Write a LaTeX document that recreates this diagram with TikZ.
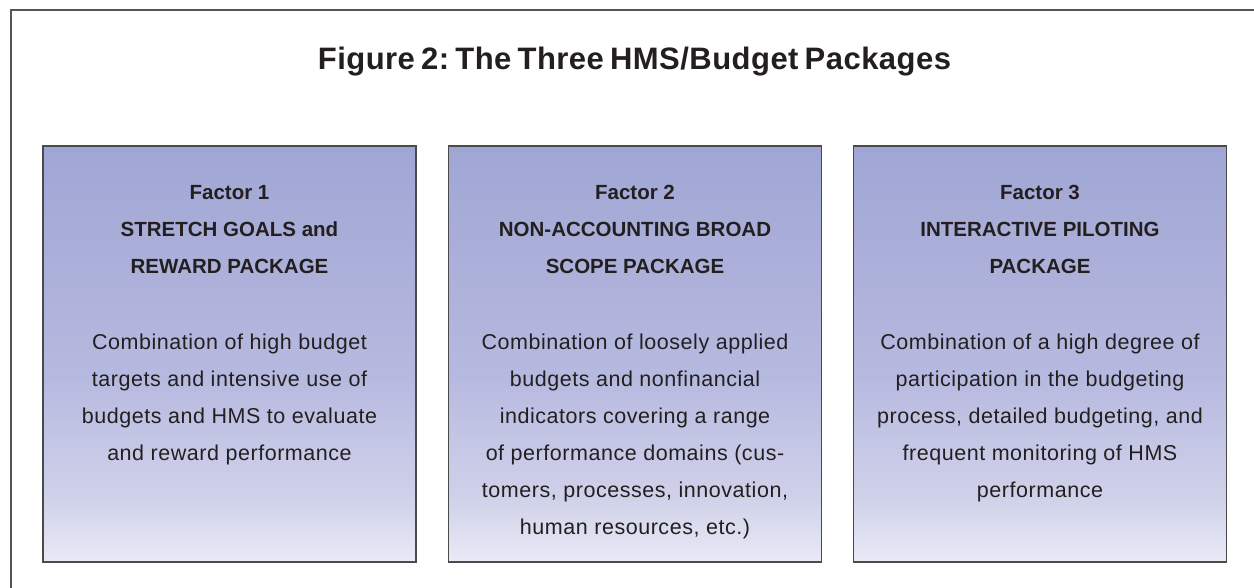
\documentclass[tikz,border=0pt]{standalone}
\usepackage{fontspec}
\setmainfont{Liberation Sans}
\newfontfamily\bodyfont[LetterSpace=2.5]{Liberation Sans}
\newfontfamily\titlefont[LetterSpace=1.5]{Liberation Sans}
\newcommand\mytitlesetup{\frenchspacing\spaceskip 0.2em\relax}
\definecolor{frameC}{HTML}{555555}
\definecolor{boxline}{HTML}{4A4A4A}
\definecolor{txt}{HTML}{231F20}
\definecolor{shB}{HTML}{E9EAF5}
\definecolor{shB1}{HTML}{D0D2EA}
\definecolor{shM}{HTML}{B6B9DF}
\definecolor{shT}{HTML}{A0A6D4}
\pgfdeclareverticalshading{boxshade}{100bp}{color(0bp)=(shB); color(25bp)=(shB); color(32.5bp)=(shB1); color(47.5bp)=(shM); color(75bp)=(shT); color(100bp)=(shT)}
\tikzset{
  pbox/.style={draw=boxline, line width=1.3pt, shading=boxshade, minimum width=373pt, minimum height=416pt, inner sep=0pt},
  headtxt/.style={anchor=base, align=center, inner sep=0pt, text=txt, font=\fontsize{20.5}{37}\selectfont\bfseries},
  bodytxt/.style={anchor=base, align=center, inner sep=0pt, text=txt, font=\bodyfont\fontsize{21.5}{37}\selectfont},
  titletxt/.style={anchor=base, inner sep=0pt, text=txt, font=\titlefont\fontsize{31}{36}\selectfont\bfseries\mytitlesetup}
}
\begin{document}
\begin{tikzpicture}[x=1pt,y=-1pt]
\useasboundingbox (0,0) rectangle (1254,588);
\fill[white] (0,0) rectangle (1254,588);
\draw[frameC, line width=1.5pt] (1254,10) -- (11,10) -- (11,588);
\node[titletxt] (title) at (634.5,69.3) {Figure 2: The Three HMS/Budget Packages};
\node[pbox] (b1) at (229.5,354) {};
\node[pbox] (b2) at (635,354) {};
\node[pbox] (b3) at (1040,354) {};
% base anchor = baseline of the last line
\node[headtxt] (h1) at (229.5,274) {Factor 1\\STRETCH GOALS and\\REWARD PACKAGE};
\node[headtxt] (h2) at (635,274) {Factor 2\\NON-ACCOUNTING BROAD\\SCOPE PACKAGE};
\node[headtxt] (h3) at (1040,274) {Factor 3\\INTERACTIVE PILOTING\\PACKAGE};
\node[bodytxt] (t1) at (229.5,460.3) {Combination of high budget\\targets and intensive use of\\budgets and HMS to evaluate\\and reward performance};
\node[bodytxt] (t2) at (635,534.3) {Combination of loosely applied\\budgets and nonfinancial\\indicators covering a range\\of performance domains (cus-\\tomers, processes, innovation,\\human resources, etc.)};
\node[bodytxt] (t3) at (1040,497.3) {Combination of a high degree of\\participation in the budgeting\\process, detailed budgeting, and\\frequent monitoring of HMS\\performance};
\end{tikzpicture}
\end{document}
